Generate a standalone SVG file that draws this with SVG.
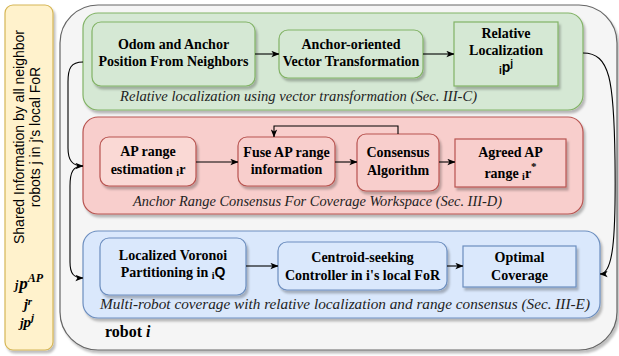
<svg xmlns="http://www.w3.org/2000/svg" width="619" height="356" viewBox="0 0 619 356">
<style>
.t{font-family:Liberation Serif, Times New Roman, serif;font-weight:bold;font-size:14px;fill:#000;text-anchor:middle}
.cap{font-family:Liberation Serif, Times New Roman, serif;font-style:italic;font-size:14.5px;fill:#222}
.sans{font-family:Liberation Sans, Arial, sans-serif}
.math{font-family:Liberation Serif, Times New Roman, serif;font-style:italic;font-weight:bold;fill:#000;text-anchor:middle}
.g{fill:#d5e8d4;stroke:#82b366;stroke-width:1.2}
.r{fill:#f8cecc;stroke:#b85450;stroke-width:1.2}
.rl{fill:#fad9d5;stroke:#b85450;stroke-width:1.2}
.b{fill:#dae8fc;stroke:#6c8ebf;stroke-width:1.2}
.c{fill:none;stroke:#000;stroke-width:1.1;marker-end:url(#ah)}
</style>
<defs>
<filter id="sh" x="-10%" y="-10%" width="130%" height="130%">
<feDropShadow dx="2" dy="3" stdDeviation="1.2" flood-color="#000" flood-opacity="0.25"/>
</filter>
<marker id="ah" viewBox="0 0 10 8" refX="9.5" refY="4" markerWidth="8" markerHeight="7" orient="auto" markerUnits="userSpaceOnUse">
<path d="M0,0 L10,4 L0,8 L2.5,4 z" fill="#000"/>
</marker>
</defs>

<g id="shared-info">
<rect x="5" y="5" width="48" height="345" rx="8" fill="#fff2cc" stroke="#d6b656" stroke-width="1.2" filter="url(#sh)"/>
<text class="sans" font-size="14" fill="#000" text-anchor="middle" transform="translate(24,137) rotate(-90)">Shared Information by all neighbor</text>
<text class="sans" font-size="14" fill="#000" text-anchor="middle" transform="translate(40,137) rotate(-90)">robots j in j's local FoR</text>
<text class="math" x="29" y="289"><tspan font-size="12">j</tspan><tspan font-size="17" dx="1">p</tspan><tspan font-size="12" dy="-7">AP</tspan></text>
<text class="math" x="28" y="309"><tspan font-size="14">j</tspan><tspan font-size="11" dy="-4">r</tspan></text>
<text class="math" x="27" y="327"><tspan font-size="13">j</tspan><tspan font-size="15">p</tspan><tspan font-size="11" dy="-6">j</tspan></text>
</g>

<g id="robot-i">
<rect x="60" y="5" width="557" height="345" rx="38" fill="#f5f5f5" stroke="#666666" stroke-width="1.2" filter="url(#sh)"/>
<text x="105" y="337" font-family="Liberation Serif, Times New Roman, serif" font-weight="bold" font-size="16" fill="#000">robot <tspan font-style="italic">i</tspan></text>
</g>

<g id="group-localization">
<rect x="83" y="13" width="500" height="97" rx="15" class="g" filter="url(#sh)"/>
<text class="cap" x="120" y="101" textLength="357" lengthAdjust="spacingAndGlyphs">Relative localization using vector transformation  (Sec. III-C)</text>
</g>
<g id="odom">
<rect x="92" y="22" width="163" height="64" rx="9" class="g" filter="url(#sh)"/>
<text class="t" x="173.5" y="49">Odom and Anchor</text>
<text class="t" x="173.5" y="66">Position From Neighbors</text>
</g>
<g id="vector-transform">
<rect x="279" y="30" width="144" height="48" rx="9" class="g" filter="url(#sh)"/>
<text class="t" x="351" y="49">Anchor-oriented</text>
<text class="t" x="351" y="66">Vector Transformation</text>
</g>
<g id="relative-localization">
<rect x="454" y="22" width="104" height="64" class="g" filter="url(#sh)"/>
<text class="t" x="506" y="38">Relative</text>
<text class="t" x="506" y="55">Localization</text>
<text class="t sans" x="506" y="72"><tspan font-size="10" dy="2">i</tspan><tspan font-size="14" dy="-2">p</tspan><tspan font-size="10" dy="-5">j</tspan></text>
</g>

<g id="group-range">
<rect x="83" y="117" width="500" height="97" rx="15" class="r" filter="url(#sh)"/>
<text class="cap" x="133" y="206" textLength="369" lengthAdjust="spacingAndGlyphs">Anchor Range Consensus For Coverage Workspace (Sec. III-D)</text>
</g>
<g id="ap-range">
<rect x="100" y="137" width="96" height="49" rx="9" class="rl" filter="url(#sh)"/>
<text class="t" x="148" y="156">AP range</text>
<text class="t" x="148" y="174">estimation <tspan font-size="10" dy="2">i</tspan><tspan dy="-2">r</tspan></text>
</g>
<g id="fuse">
<rect x="238" y="137" width="97" height="49" rx="9" class="r" filter="url(#sh)"/>
<text class="t" x="286.5" y="157">Fuse AP range</text>
<text class="t" x="286.5" y="174">information</text>
</g>
<g id="consensus">
<rect x="357" y="134" width="82" height="57" rx="9" class="r" filter="url(#sh)"/>
<text class="t" x="398" y="157">Consensus</text>
<text class="t" x="398" y="175">Algorithm</text>
</g>
<g id="agreed">
<rect x="455" y="139" width="111" height="48" class="r" filter="url(#sh)"/>
<text class="t" x="510.5" y="157" font-size="16">Agreed AP</text>
<text class="t" x="510.5" y="178" font-size="16">range <tspan font-size="10" dy="2">i</tspan><tspan dy="-2">r</tspan><tspan font-size="11" dy="-8">*</tspan></text>
</g>

<g id="group-coverage">
<rect x="83" y="231" width="517" height="87" rx="15" class="b" filter="url(#sh)"/>
<text class="cap" x="100" y="309" textLength="490" lengthAdjust="spacingAndGlyphs">Multi-robot coverage with relative localization and range consensus (Sec. III-E)</text>
</g>
<g id="voronoi">
<rect x="100" y="238" width="146" height="57" rx="9" class="b" filter="url(#sh)"/>
<text class="t" x="173" y="260">Localized Voronoi</text>
<text class="t" x="173" y="277">Partitioning in <tspan font-size="10" dy="2">i</tspan><tspan class="sans" dy="-2">Q</tspan></text>
</g>
<g id="centroid">
<rect x="278" y="242" width="169" height="48" rx="9" class="b" filter="url(#sh)"/>
<text class="t" x="362.5" y="262">Centroid-seeking</text>
<text class="t" x="362.5" y="280">Controller in i's local FoR</text>
</g>
<g id="optimal">
<rect x="463" y="246" width="113" height="41" class="b" filter="url(#sh)"/>
<text class="t" x="519.5" y="262">Optimal</text>
<text class="t" x="519.5" y="280">Coverage</text>
</g>

<g id="connectors">
<path class="c" d="M255,54 L279,54"/>
<path class="c" d="M423,54 L454,54"/>
<path class="c" d="M196,162 L238,162"/>
<path class="c" d="M335,162 L357,162"/>
<path class="c" d="M439,162 L455,162"/>
<path class="c" d="M398,134 L398,126 L274,126 L274,137"/>
<path class="c" d="M246,266 L278,266"/>
<path class="c" d="M447,266 L463,266"/>
<path class="c" d="M83,62 C71,62 68,68 68,82 L68,148 C68,160 72,166 83,166"/>
<path class="c" d="M83,166 C73,166 70,172 70,186 L70,262 C70,274 74,278 83,278"/>
<path class="c" d="M583,53 C610,53 614,80 615,160 C616,240 613,274 600,274"/>
</g>
</svg>
